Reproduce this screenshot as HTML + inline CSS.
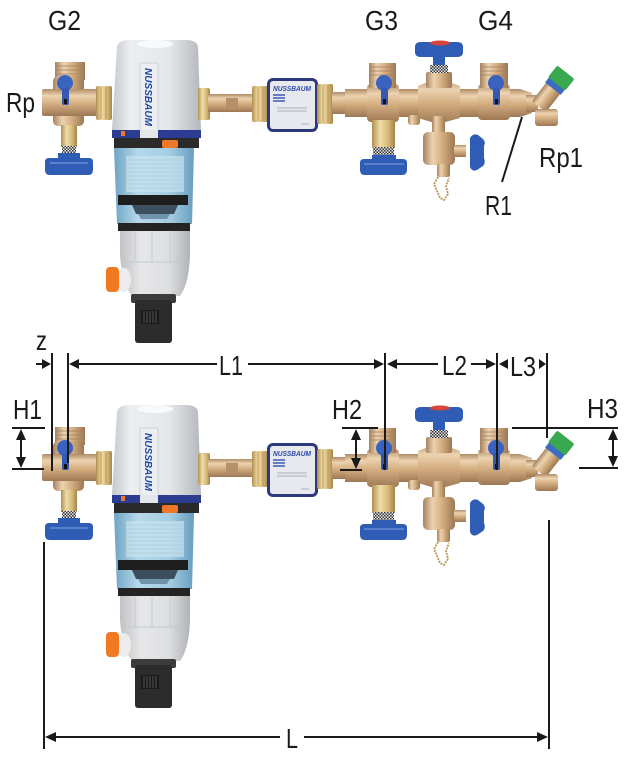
<!DOCTYPE html>
<html><head><meta charset="utf-8">
<style>html,body{margin:0;padding:0;background:#fff}svg{display:block}
.t{font-family:"Liberation Sans Narrow","Liberation Sans",sans-serif;fill:#1a1a1a;font-size:28px}
</style></head>
<body>
<svg width="625" height="757" viewBox="0 0 625 757" xmlns="http://www.w3.org/2000/svg">
<defs>
<linearGradient id="bh" x1="0" y1="0" x2="0" y2="1">
<stop offset="0" stop-color="#b08c66"/><stop offset=".25" stop-color="#ecd3b0"/><stop offset=".55" stop-color="#d4ad80"/><stop offset="1" stop-color="#9c7854"/></linearGradient>
<linearGradient id="bv" x1="0" y1="0" x2="1" y2="0">
<stop offset="0" stop-color="#a68260"/><stop offset=".3" stop-color="#ecd3b0"/><stop offset=".6" stop-color="#d4ad80"/><stop offset="1" stop-color="#9c7854"/></linearGradient>
<linearGradient id="bl" x1="0" y1="0" x2="1" y2="0">
<stop offset="0" stop-color="#b09050"/><stop offset=".35" stop-color="#f0dca8"/><stop offset=".7" stop-color="#d6ba78"/><stop offset="1" stop-color="#a4844a"/></linearGradient>
<linearGradient id="gh" x1="0" y1="0" x2="1" y2="0">
<stop offset="0" stop-color="#c4c8cc"/><stop offset=".2" stop-color="#eceef0"/><stop offset=".65" stop-color="#e4e6e9"/><stop offset="1" stop-color="#b4b8bd"/></linearGradient>
<linearGradient id="bw" x1="0" y1="0" x2="1" y2="0">
<stop offset="0" stop-color="#6ea5c4"/><stop offset=".3" stop-color="#b6d8ea"/><stop offset=".7" stop-color="#a4cde2"/><stop offset="1" stop-color="#679dbd"/></linearGradient>
<linearGradient id="gl" x1="0" y1="0" x2="1" y2="0">
<stop offset="0" stop-color="#bfc2c5"/><stop offset=".3" stop-color="#e6e7e8"/><stop offset=".7" stop-color="#dcdee0"/><stop offset="1" stop-color="#b0b3b6"/></linearGradient>
<pattern id="chk" width="3" height="3" patternUnits="userSpaceOnUse">
<rect width="3" height="3" fill="#e8e8e8"/><rect width="1.5" height="1.5" fill="#333"/><rect x="1.5" y="1.5" width="1.5" height="1.5" fill="#333"/></pattern>
<g id="dev">
 <!-- left fitting -->
 <rect x="55" y="62" width="30" height="18" fill="url(#bv)"/>
 <path d="M56 66H84M56 70H84M56 74H84" stroke="#a08060" stroke-width=".8"/>
 <rect x="53" y="76" width="31" height="50" rx="5" fill="url(#bv)"/>
 <rect x="42" y="89" width="56" height="27" rx="2" fill="url(#bh)"/>
 <rect x="96" y="86" width="16" height="34" rx="2" fill="url(#bl)"/>
 <path d="M101 87V119M106 87V119" stroke="#b08a4e" stroke-width=".8"/>
 <rect x="61" y="125" width="16" height="22" fill="url(#bl)"/>
 <rect x="62" y="146" width="14" height="8" fill="url(#chk)"/>
 <path d="M58 153h22v5h9q4 0 4 4v8q0 5-5 5H50q-5 0-5-5v-8q0-4 4-4h9z" fill="#2f5cb4"/>
 <path d="M50 163h38" stroke="#5a80cc" stroke-width="2"/>
 <circle cx="65" cy="83" r="8" fill="#3a63c0"/>
 <rect x="62" y="88" width="7" height="17" rx="2" fill="#3558b0"/>
 <rect x="64" y="99" width="3" height="5" fill="#111"/>
 <!-- filter head -->
 <path d="M117 47Q118 40 130 40H186Q197 40 198 47L201 130H112Z" fill="url(#gh)"/>
 <ellipse cx="155" cy="44" rx="18" ry="4" fill="#f8f9fa"/>
 <rect x="140" y="63" width="18" height="80" rx="2" fill="#eceff2" stroke="#c3c8ce" stroke-width=".8"/>
 <text transform="translate(145,68) rotate(90)" font-family="Liberation Sans, sans-serif" font-size="10" font-weight="bold" font-style="italic" fill="#2448a8" textLength="58" lengthAdjust="spacingAndGlyphs">NUSSBAUM</text>
 <rect x="112" y="130" width="89" height="8" fill="#2b3c92"/>
 <rect x="121" y="131" width="4" height="5" fill="#e8782a"/>
 <rect x="140" y="130" width="18" height="12" fill="#e4e7ea"/>
 <rect x="114" y="138" width="85" height="10" fill="#2a2a2a"/>
 <rect x="162" y="140" width="16" height="8" rx="2" fill="#f0782a"/>
 <!-- bowl -->
 <path d="M114 148H194L192 224H117Z" fill="url(#bw)"/>
 <rect x="126" y="156" width="58" height="36" fill="#c7e2ee" opacity=".7"/>
 <path d="M126 160H184M126 164H184M126 168H184M126 172H184M126 176H184M126 180H184M126 184H184M126 188H184" stroke="#a9cbdc" stroke-width=".8"/>
 <rect x="118" y="195" width="70" height="10" fill="#1e1e1e"/>
 <path d="M132 205H178L174 214H136Z" fill="#3b4f5e"/>
 <path d="M138 214H170L167 219H141Z" fill="#6f94ab"/>
 <rect x="118" y="223" width="72" height="8" fill="#232323"/>
 <!-- lower body -->
 <path d="M120 231H190V255Q189 284 180 296H132Q122 284 120 255Z" fill="url(#gl)"/>
 <path d="M135 232V262M152 232V262M170 232V262M121 262H189" stroke="#c0c3c6" stroke-width=".8" fill="none"/>
 <ellipse cx="124" cy="280" rx="7" ry="12" fill="#ececec"/>
 <rect x="106" y="267" width="13" height="25" rx="4" fill="#f07a22"/>
 <rect x="131" y="294" width="45" height="9" rx="2" fill="#3c3c3c"/>
 <rect x="135" y="300" width="37" height="43" rx="3" fill="#2c2c2c"/>
 <rect x="141" y="310" width="18" height="14" fill="#1a1a1a"/>
 <path d="M144 311V323M147 311V323M150 311V323M153 311V323M156 311V323" stroke="#555" stroke-width="1"/>
 <!-- pipe to meter -->
 <rect x="198" y="88" width="12" height="32" rx="2" fill="url(#bl)"/>
 <rect x="208" y="94" width="46" height="18" fill="url(#bh)"/>
 <rect x="226" y="98" width="12" height="10" fill="#b39068"/>
 <rect x="252" y="86" width="16" height="36" rx="2" fill="url(#bl)"/>
 <path d="M258 87V121M263 87V121" stroke="#b08a4e" stroke-width=".8"/>
 <!-- meter -->
 <rect x="267" y="78" width="51" height="54" rx="6" fill="#2c3a7c"/>
 <rect x="270" y="81" width="45" height="48" rx="3" fill="#e7e9ee"/>
 <text x="273" y="91" font-family="Liberation Sans, sans-serif" font-size="7" font-weight="bold" font-style="italic" fill="#2b4aa8" textLength="38" lengthAdjust="spacingAndGlyphs">NUSSBAUM</text>
 <path d="M273 95h12M273 98h12M273 101h12" stroke="#3a5ab8" stroke-width="1.4"/>
 <path d="M277 108h30M277 111h30M301 124h8" stroke="#9aa0aa" stroke-width=".8"/>
 <rect x="317" y="84" width="16" height="40" rx="2" fill="url(#bl)"/>
 <path d="M323 85V123M328 85V123" stroke="#b08a4e" stroke-width=".8"/>
 <rect x="332" y="92" width="15" height="22" fill="url(#bh)"/>
 <!-- manifold -->
 <path d="M345 89H520L532 93V113L520 117H345Z" fill="url(#bh)"/>
 <rect x="367" y="84" width="32" height="38" rx="4" fill="url(#bh)"/>
 <path d="M418 86L438 78L460 86V118L438 124L418 118Z" fill="url(#bh)"/>
 <rect x="478" y="84" width="32" height="36" rx="4" fill="url(#bh)"/>
 <rect x="369" y="63" width="27" height="25" fill="url(#bv)"/>
 <path d="M370 67H395M370 71H395M370 75H395" stroke="#a08060" stroke-width=".8"/>
 <rect x="480" y="63" width="28" height="25" fill="url(#bv)"/>
 <path d="M481 67H507M481 71H507M481 75H507" stroke="#a08060" stroke-width=".8"/>
 <rect x="426" y="72" width="26" height="16" rx="2" fill="url(#bv)"/>
 <rect x="430" y="65" width="18" height="8" fill="url(#chk)"/>
 <path d="M415 47q0-5 6-5h36q6 0 6 5v5q0 5-6 5H421q-6 0-6-5z" fill="#2f5cb4"/>
 <ellipse cx="440" cy="43" rx="10" ry="2.5" fill="#d8463a"/>
 <rect x="433" y="56" width="12" height="9" fill="#2f5cb4"/>
 <circle cx="384" cy="83" r="8" fill="#3a63c0"/>
 <rect x="381" y="88" width="7" height="17" rx="2" fill="#3558b0"/>
 <rect x="383" y="99" width="3" height="5" fill="#111"/>
 <circle cx="496" cy="83" r="8" fill="#3a63c0"/>
 <rect x="493" y="88" width="7" height="17" rx="2" fill="#3558b0"/>
 <rect x="495" y="99" width="3" height="5" fill="#111"/>
 <!-- lower G3 -->
 <rect x="372" y="120" width="23" height="28" fill="url(#bl)"/>
 <rect x="373" y="147" width="21" height="8" fill="url(#chk)"/>
 <path d="M372 155h24v4h7q4 0 4 4v7q0 5-5 5H365q-5 0-5-5v-7q0-4 4-4h8z" fill="#2f5cb4"/>
 <path d="M364 164h40" stroke="#5a80cc" stroke-width="2"/>
 <rect x="408" y="115" width="12" height="10" rx="3" fill="url(#bv)"/>
 <!-- lower center valve -->
 <rect x="432" y="116" width="13" height="17" fill="url(#bv)"/>
 <rect x="423" y="132" width="32" height="33" rx="5" fill="url(#bv)"/>
 <rect x="454" y="145" width="12" height="12" fill="url(#bh)"/>
 <rect x="437" y="164" width="13" height="13" rx="2" fill="url(#bv)"/>
 <path d="M470 138q3-5 8-3l5 4q3 3 1 7v12q2 5-1 8l-6 4q-5 2-7-3z" fill="#2f5cb4"/>
 <polyline points="438,177 434,184 437,191 440,198 444,200 448,194 446,186 449,178" fill="none" stroke="#b89a50" stroke-width="1.8" stroke-dasharray="2 1"/>
 <!-- right fitting -->
 <rect x="526" y="95" width="12" height="17" fill="url(#bh)"/>
 <g transform="translate(548,95) rotate(38)">
  <rect x="-9" y="-9" width="18" height="24" rx="2" fill="url(#bv)"/>
  <rect x="-10" y="-15" width="20" height="7" fill="#3b6cc4"/>
  <rect x="-11" y="-29" width="22" height="15" rx="2" fill="#3aa84e"/>
 </g>
 <rect x="535" y="109" width="23" height="17" rx="3" fill="url(#bh)"/>
</g>
</defs>

<use href="#dev"/>
<use href="#dev" transform="translate(0,365)"/>

<!-- top labels -->
<text class="t" x="48" y="30" textLength="33" lengthAdjust="spacingAndGlyphs">G2</text>
<text class="t" x="6" y="112" textLength="29" lengthAdjust="spacingAndGlyphs">Rp</text>
<text class="t" x="365" y="30" textLength="33" lengthAdjust="spacingAndGlyphs">G3</text>
<text class="t" x="478" y="30" textLength="35" lengthAdjust="spacingAndGlyphs">G4</text>
<text class="t" x="539" y="167" textLength="44" lengthAdjust="spacingAndGlyphs">Rp1</text>
<text class="t" x="485" y="215" textLength="27" lengthAdjust="spacingAndGlyphs">R1</text>
<line x1="522" y1="117" x2="502" y2="182" stroke="#1a1a1a" stroke-width="2"/>

<!-- dimensions -->
<g stroke="#1a1a1a" stroke-width="2" fill="none">
 <path d="M52 353V471M68 353V463M385 353V470M497 353V470M547 353V438"/>
 <path d="M36 364H44M78 364H217M248 364H374M397 364H438M471 364H486"/>
 <path d="M44 542V749M549 520V749M55 737H280M304 737H538"/>
 <path d="M12 428H45M12 469H44M21 438V459"/>
 <path d="M342 428H378M340 470H362M356 438V460"/>
 <path d="M512 428H618M579 468H618M613 438V458"/>
</g>
<g fill="#1a1a1a">
 <polygon points="51,364 42,359 42,369"/>
 <polygon points="69,364 79,359 79,369"/>
 <polygon points="384,364 374,359 374,369"/>
 <polygon points="387,364 397,359 397,369"/>
 <polygon points="496,364 486,359 486,369"/>
 <polygon points="499,364 508,359 508,369"/>
 <polygon points="546,364 539,359 539,369"/>
 <polygon points="45,737 56,732 56,742"/>
 <polygon points="548,737 537,732 537,742"/>
 <polygon points="21,429 16,440 26,440"/>
 <polygon points="21,468 16,457 26,457"/>
 <polygon points="356,429 351,440 361,440"/>
 <polygon points="356,469 351,458 361,458"/>
 <polygon points="613,429 608,440 618,440"/>
 <polygon points="613,467 608,456 618,456"/>
</g>
<text class="t" x="36" y="350" font-size="30" textLength="11" lengthAdjust="spacingAndGlyphs">z</text>
<text class="t" x="219" y="375" textLength="24" lengthAdjust="spacingAndGlyphs">L1</text>
<text class="t" x="442" y="375" textLength="25" lengthAdjust="spacingAndGlyphs">L2</text>
<text class="t" x="510" y="376" textLength="26" lengthAdjust="spacingAndGlyphs">L3</text>
<text class="t" x="13" y="419" textLength="29" lengthAdjust="spacingAndGlyphs">H1</text>
<text class="t" x="332" y="419" textLength="30" lengthAdjust="spacingAndGlyphs">H2</text>
<text class="t" x="587" y="418" textLength="31" lengthAdjust="spacingAndGlyphs">H3</text>
<text class="t" x="286" y="748" textLength="12" lengthAdjust="spacingAndGlyphs">L</text>
</svg>
</body></html>
